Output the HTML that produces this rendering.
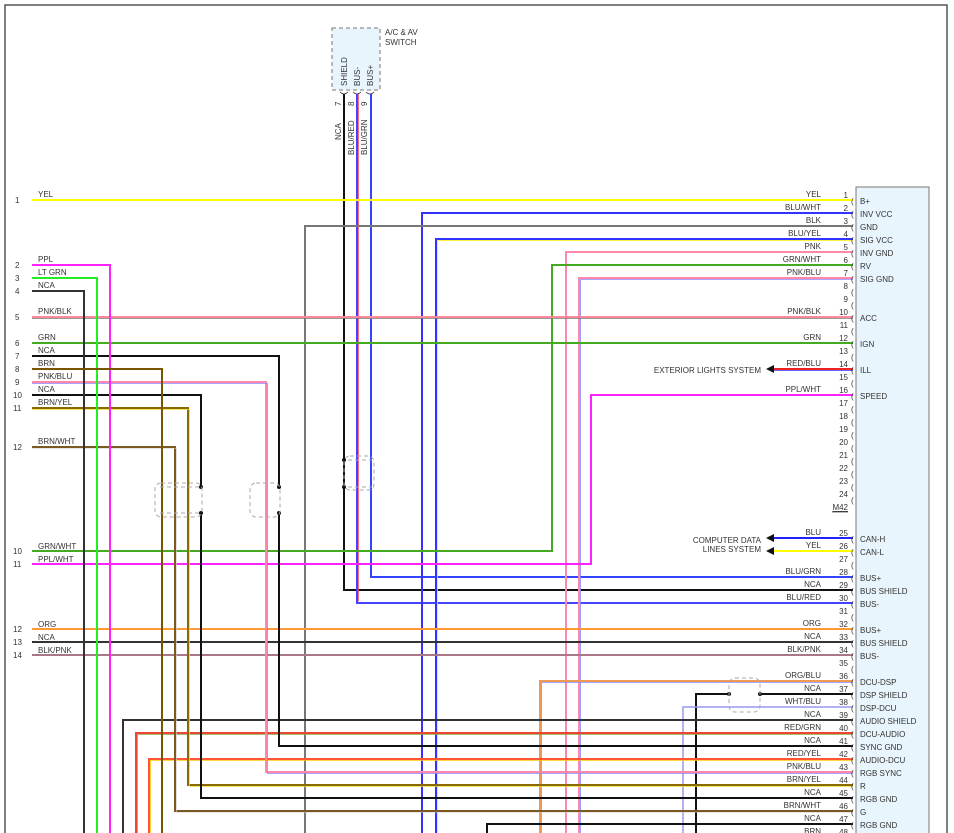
<!DOCTYPE html>
<html><head><meta charset="utf-8"><style>
html,body{margin:0;padding:0;background:#fff;}
svg{display:block;font-family:"Liberation Sans",sans-serif;}
.t{font-size:8px;fill:#333;}
.n{font-size:8px;fill:#333;text-anchor:end;}
.w{font-size:8px;fill:#333;text-anchor:end;}
.p{font-size:8px;fill:#333;}
</style></head><body>
<svg width="954" height="833" viewBox="0 0 954 833" xmlns="http://www.w3.org/2000/svg">
<rect x="0" y="0" width="954" height="833" fill="#fff"/>
<!-- frame -->
<path d="M5 833 V5 H947 V833" fill="none" stroke="#555" stroke-width="1.5"/>
<!-- connector M42 -->
<rect x="856" y="187" width="73" height="660" fill="#e8f5fc" stroke="#777" stroke-width="1"/>
<!-- switch -->
<rect x="332" y="28" width="48" height="62" fill="#e8f5fc" stroke="#777" stroke-dasharray="4,3"/>
<text class="t" x="385" y="35">A/C &amp; AV</text>
<text class="t" x="385" y="45">SWITCH</text>
<g class="t" font-size="7.5">
<text transform="translate(347,86) rotate(-90)">SHIELD</text>
<text transform="translate(360,86) rotate(-90)">BUS-</text>
<text transform="translate(373,86) rotate(-90)">BUS+</text>
<text transform="translate(341,106) rotate(-90)">7</text>
<text transform="translate(354,106) rotate(-90)">8</text>
<text transform="translate(367,106) rotate(-90)">9</text>
<text transform="translate(341,140) rotate(-90)">NCA</text>
<text transform="translate(354,155) rotate(-90)">BLU/RED</text>
<text transform="translate(367,155) rotate(-90)">BLU/GRN</text>
</g>
<g fill="none" stroke="#333" stroke-width="0.8">
<path d="M340 92 q4 4 8 0"/><path d="M353 92 q4 4 8 0"/><path d="M366 92 q4 4 8 0"/>
</g>

<g fill="none" stroke-width="2">
<!-- switch wires -->
<path d="M344 94 V590 H853" stroke="#111"/>
<path d="M357 94 V603 H853" stroke="#4444ff"/>
<path d="M358.5 94 V601.5" stroke="#ff4466" stroke-width="0.8"/>
<path d="M371 94 V577 H853" stroke="#3344ff"/>
<!-- pin 1 -->
<path d="M32 200 H853" stroke="#ffff00"/>
<!-- pin 2 -->
<path d="M853 213 H422 V833" stroke="#3333ff"/>
<!-- pin 3 -->
<path d="M853 226 H305 V833" stroke="#777"/>
<!-- pin 4 -->
<path d="M853 239 H436 V833" stroke="#3333ff"/>
<path d="M853 240.5 H437.5 V833" stroke="#ffee00" stroke-width="0.8"/>
<!-- pin 5 -->
<path d="M853 252 H566 V833" stroke="#ff88aa"/>
<!-- pin 6 -->
<path d="M853 265 H552 V551 H32" stroke="#44aa22"/>
<!-- pin 7 -->
<path d="M853 278 H579 V833" stroke="#ff88aa"/>
<path d="M853 279.5 H580.5 V833" stroke="#8888ff" stroke-width="0.8"/>
<!-- pin 10 -->
<path d="M32 317 H853" stroke="#ff8899"/>
<path d="M32 318.5 H853" stroke="#777" stroke-width="0.8"/>
<!-- pin 12 -->
<path d="M32 343 H853" stroke="#44aa22"/>
<!-- pin 14 -->
<path d="M770 369 H853" stroke="#ee2222"/>
<path d="M770 370.5 H853" stroke="#3333ff" stroke-width="0.8"/>
<!-- pin 16 -->
<path d="M853 395 H591 V564 H32" stroke="#ff22ff"/>
<!-- 25/26 -->
<path d="M770 538 H853" stroke="#2222ff"/>
<path d="M770 551 H853" stroke="#ffff00"/>
<!-- 32-34 -->
<path d="M32 629 H853" stroke="#ff9933"/>
<path d="M32 642 H853" stroke="#333"/>
<path d="M32 655 H853" stroke="#aa7788"/>
<!-- 36 -->
<path d="M853 681 H540 V833" stroke="#ee9955"/>
<path d="M853 682.5 H541.5 V833" stroke="#8888ff" stroke-width="0.8"/>
<!-- 37 -->
<path d="M853 694 H760" stroke="#111"/>
<path d="M729 694 H696 V833" stroke="#111"/>
<!-- 38 -->
<path d="M853 707 H683 V833" stroke="#9999ee" stroke-width="1.5"/>
<!-- 39 -->
<path d="M853 720 H123 V833" stroke="#333"/>
<!-- 40 -->
<path d="M853 733 H136 V833" stroke="#ee4433"/>
<path d="M853 734.5 H137.5 V833" stroke="#88aa44" stroke-width="0.8"/>
<!-- 41 from left 7 -->
<path d="M32 356 H279 V487 M279 513 V746 H853" stroke="#111"/>
<!-- 42 -->
<path d="M853 759 H149 V833" stroke="#ff5533"/>
<path d="M853 760.5 H150.5 V833" stroke="#ffcc00" stroke-width="0.8"/>
<!-- 43 from left 9 -->
<path d="M32 382 H266 V772 H853" stroke="#ff88aa"/>
<path d="M32 383.5 H267.5 V773.5 H853" stroke="#8888ff" stroke-width="0.8"/>
<!-- 44 from left 11 -->
<path d="M32 408 H188 V785 H853" stroke="#8a6a00"/>
<path d="M32 409.5 H189.5 V786.5 H853" stroke="#eedd33" stroke-width="0.8"/>
<!-- 45 from left 10 -->
<path d="M32 395 H201 V487 M201 513 V798 H853" stroke="#111"/>
<!-- 46 from left 12 -->
<path d="M32 447 H175 V811 H853" stroke="#7a5a20"/>
<path d="M32 448.5 H176.5 V812.5 H853" stroke="#cccccc" stroke-width="0.6"/>
<!-- 47 -->
<path d="M853 824 H487 V833" stroke="#111"/>
<!-- left 2,3,4,8 -->
<path d="M32 265 H110 V833" stroke="#ff22ff"/>
<path d="M32 278 H97 V833" stroke="#22ee22"/>
<path d="M32 291 H84 V833" stroke="#333"/>
<path d="M32 369 H162 V833" stroke="#7a5500"/>
</g>
<!-- dots -->
<g fill="#111">
<circle cx="201" cy="487" r="2"/><circle cx="201" cy="513" r="2"/>
<circle cx="279" cy="487" r="2"/><circle cx="279" cy="513" r="2"/>
<circle cx="344" cy="460" r="2"/><circle cx="344" cy="487" r="2"/>
<circle cx="729" cy="694" r="2"/><circle cx="760" cy="694" r="2"/>
</g>
<!-- splices -->
<g fill="none" stroke="#aaa" stroke-dasharray="4,3" stroke-width="1">
<rect x="155" y="483" width="47" height="34" rx="6"/>
<path d="M160 487 H200 M160 513 H200"/>
<rect x="250" y="483" width="30" height="34" rx="6"/>
<rect x="344" y="456" width="30" height="34" rx="6"/>
<path d="M348 460 H372 M348 487 H372"/>
<rect x="729" y="678" width="31" height="34" rx="6"/>
</g>
<!-- arrows -->
<g fill="#111">
<path d="M766 369 l8 -4 v8 z"/>
<path d="M766 538 l8 -4 v8 z"/>
<path d="M766 551 l8 -4 v8 z"/>
</g>
<text class="w" x="761" y="373">EXTERIOR LIGHTS SYSTEM</text>
<text class="w" x="761" y="543">COMPUTER DATA</text>
<text class="w" x="761" y="552">LINES SYSTEM</text>

<!-- left labels -->
<g class="t">
<text x="15" y="203">1</text><text x="38" y="197">YEL</text>
<text x="15" y="268">2</text><text x="38" y="262">PPL</text>
<text x="15" y="281">3</text><text x="38" y="275">LT GRN</text>
<text x="15" y="294">4</text><text x="38" y="288">NCA</text>
<text x="15" y="320">5</text><text x="38" y="314">PNK/BLK</text>
<text x="15" y="346">6</text><text x="38" y="340">GRN</text>
<text x="15" y="359">7</text><text x="38" y="353">NCA</text>
<text x="15" y="372">8</text><text x="38" y="366">BRN</text>
<text x="15" y="385">9</text><text x="38" y="379">PNK/BLU</text>
<text x="13" y="398">10</text><text x="38" y="392">NCA</text>
<text x="13" y="411">11</text><text x="38" y="405">BRN/YEL</text>
<text x="13" y="450">12</text><text x="38" y="444">BRN/WHT</text>
<text x="13" y="554">10</text><text x="38" y="549">GRN/WHT</text>
<text x="13" y="567">11</text><text x="38" y="562">PPL/WHT</text>
<text x="13" y="632">12</text><text x="38" y="627">ORG</text>
<text x="13" y="645">13</text><text x="38" y="640">NCA</text>
<text x="13" y="658">14</text><text x="38" y="653">BLK/PNK</text>
</g>

<!-- right wire labels -->
<g class="w">
<text x="821" y="197">YEL</text><text x="821" y="210">BLU/WHT</text><text x="821" y="223">BLK</text>
<text x="821" y="236">BLU/YEL</text><text x="821" y="249">PNK</text><text x="821" y="262">GRN/WHT</text>
<text x="821" y="275">PNK/BLU</text><text x="821" y="314">PNK/BLK</text><text x="821" y="340">GRN</text>
<text x="821" y="366">RED/BLU</text><text x="821" y="392">PPL/WHT</text>
<text x="821" y="535">BLU</text><text x="821" y="548">YEL</text><text x="821" y="574">BLU/GRN</text>
<text x="821" y="587">NCA</text><text x="821" y="600">BLU/RED</text><text x="821" y="626">ORG</text>
<text x="821" y="639">NCA</text><text x="821" y="652">BLK/PNK</text><text x="821" y="678">ORG/BLU</text>
<text x="821" y="691">NCA</text><text x="821" y="704">WHT/BLU</text><text x="821" y="717">NCA</text>
<text x="821" y="730">RED/GRN</text><text x="821" y="743">NCA</text><text x="821" y="756">RED/YEL</text>
<text x="821" y="769">PNK/BLU</text><text x="821" y="782">BRN/YEL</text><text x="821" y="795">NCA</text>
<text x="821" y="808">BRN/WHT</text><text x="821" y="821">NCA</text><text x="821" y="834">BRN</text>
</g>
<!-- pin numbers -->
<g class="n">
<text x="848" y="198">1</text><text x="848" y="211">2</text><text x="848" y="224">3</text><text x="848" y="237">4</text>
<text x="848" y="250">5</text><text x="848" y="263">6</text><text x="848" y="276">7</text><text x="848" y="289">8</text>
<text x="848" y="302">9</text><text x="848" y="315">10</text><text x="848" y="328">11</text><text x="848" y="341">12</text>
<text x="848" y="354">13</text><text x="848" y="367">14</text><text x="848" y="380">15</text><text x="848" y="393">16</text>
<text x="848" y="406">17</text><text x="848" y="419">18</text><text x="848" y="432">19</text><text x="848" y="445">20</text>
<text x="848" y="458">21</text><text x="848" y="471">22</text><text x="848" y="484">23</text><text x="848" y="497">24</text>
<text x="848" y="510" text-decoration="underline">M42</text>
<text x="848" y="536">25</text><text x="848" y="549">26</text><text x="848" y="562">27</text><text x="848" y="575">28</text>
<text x="848" y="588">29</text><text x="848" y="601">30</text><text x="848" y="614">31</text><text x="848" y="627">32</text>
<text x="848" y="640">33</text><text x="848" y="653">34</text><text x="848" y="666">35</text><text x="848" y="679">36</text>
<text x="848" y="692">37</text><text x="848" y="705">38</text><text x="848" y="718">39</text><text x="848" y="731">40</text>
<text x="848" y="744">41</text><text x="848" y="757">42</text><text x="848" y="770">43</text><text x="848" y="783">44</text>
<text x="848" y="796">45</text><text x="848" y="809">46</text><text x="848" y="822">47</text><text x="848" y="835">48</text>
</g>
<line x1="832" y1="512" x2="848" y2="512" stroke="#333" stroke-width="0.7"/>
<!-- pin parens -->
<g class="t" font-size="9">
<text x="851" y="204">(</text><text x="851" y="217">(</text><text x="851" y="230">(</text><text x="851" y="243">(</text>
<text x="851" y="256">(</text><text x="851" y="269">(</text><text x="851" y="282">(</text><text x="851" y="295">(</text>
<text x="851" y="308">(</text><text x="851" y="321">(</text><text x="851" y="334">(</text><text x="851" y="347">(</text>
<text x="851" y="360">(</text><text x="851" y="373">(</text><text x="851" y="386">(</text><text x="851" y="399">(</text>
<text x="851" y="412">(</text><text x="851" y="425">(</text><text x="851" y="438">(</text><text x="851" y="451">(</text>
<text x="851" y="464">(</text><text x="851" y="477">(</text><text x="851" y="490">(</text><text x="851" y="503">(</text>
<text x="851" y="542">(</text><text x="851" y="555">(</text><text x="851" y="568">(</text><text x="851" y="581">(</text>
<text x="851" y="594">(</text><text x="851" y="607">(</text><text x="851" y="620">(</text><text x="851" y="633">(</text>
<text x="851" y="646">(</text><text x="851" y="659">(</text><text x="851" y="672">(</text><text x="851" y="685">(</text>
<text x="851" y="698">(</text><text x="851" y="711">(</text><text x="851" y="724">(</text><text x="851" y="737">(</text>
<text x="851" y="750">(</text><text x="851" y="763">(</text><text x="851" y="776">(</text><text x="851" y="789">(</text>
<text x="851" y="802">(</text><text x="851" y="815">(</text><text x="851" y="828">(</text>
</g>
<!-- connector pin labels -->
<g class="p">
<text x="860" y="204">B+</text><text x="860" y="217">INV VCC</text><text x="860" y="230">GND</text>
<text x="860" y="243">SIG VCC</text><text x="860" y="256">INV GND</text><text x="860" y="269">RV</text>
<text x="860" y="282">SIG GND</text><text x="860" y="321">ACC</text><text x="860" y="347">IGN</text>
<text x="860" y="373">ILL</text><text x="860" y="399">SPEED</text>
<text x="860" y="542">CAN-H</text><text x="860" y="555">CAN-L</text><text x="860" y="581">BUS+</text>
<text x="860" y="594">BUS SHIELD</text><text x="860" y="607">BUS-</text><text x="860" y="633">BUS+</text>
<text x="860" y="646">BUS SHIELD</text><text x="860" y="659">BUS-</text><text x="860" y="685">DCU-DSP</text>
<text x="860" y="698">DSP SHIELD</text><text x="860" y="711">DSP-DCU</text><text x="860" y="724">AUDIO SHIELD</text>
<text x="860" y="737">DCU-AUDIO</text><text x="860" y="750">SYNC GND</text><text x="860" y="763">AUDIO-DCU</text>
<text x="860" y="776">RGB SYNC</text><text x="860" y="789">R</text><text x="860" y="802">RGB GND</text>
<text x="860" y="815">G</text><text x="860" y="828">RGB GND</text>
</g>
</svg>
</body></html>
